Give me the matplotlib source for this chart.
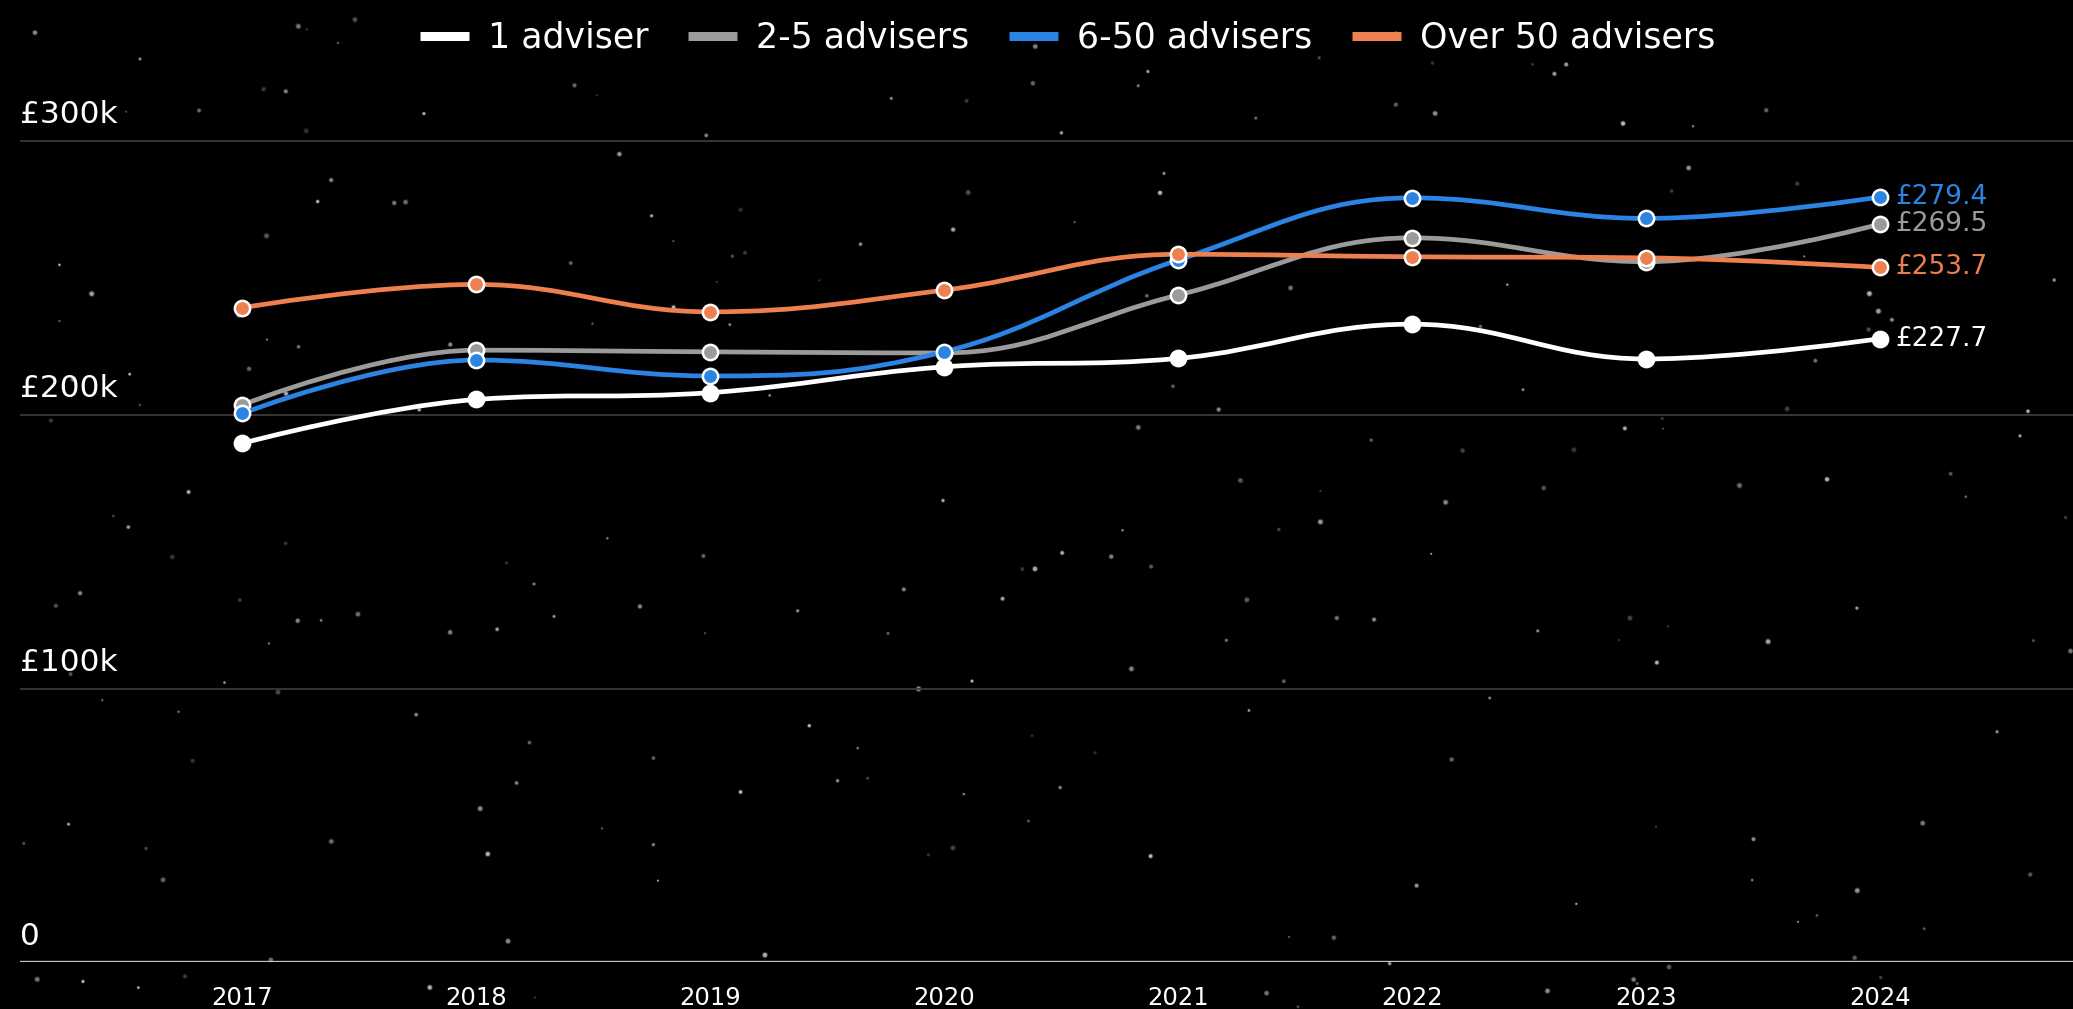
#!/usr/bin/env python3
"""
Average adviser income by firm size, 2017-2024
"""

import numpy as np
import matplotlib
matplotlib.use("Agg")
import matplotlib.pyplot as plt
from matplotlib.path import Path
from matplotlib.patches import PathPatch
from matplotlib.lines import Line2D
import matplotlib.transforms as mtransforms

# data (thousand £)
YEARS = ["2017", "2018", "2019", "2020", "2021", "2022", "2023", "2024"]
ONE_ADVISER = [189.5, 205.5, 208.0, 217.4, 220.5, 233.0, 220.3, 227.7]
TWO_FIVE = [203.5, 223.5, 222.9, 222.5, 243.6, 264.5, 255.8, 269.5]
SIX_FIFTY = [200.4, 219.9, 214.1, 222.9, 256.4, 279.1, 271.6, 279.4]
OVER_FIFTY = [239.0, 247.5, 237.5, 245.4, 258.5, 257.6, 257.2, 253.7]
SERIES_NAMES = ["1 adviser", "2-5 advisers", "6-50 advisers", "Over 50 advisers"]
Y_TICKS = [0, 100, 200, 300]
Y_TICK_LABELS = ["0", "£100k", "£200k", "£300k"]

COLORS = ["#ffffff", "#9b9b9b", "#2b84e4", "#ee8050"]
FONT = ["DejaVu Sans"]
plt.rcParams["font.family"] = FONT


def spline_path(xs, ys, smoothing=1.5):
    """Cubic bezier path through the points (highcharts style spline)."""
    n = len(xs)
    left = [None] * n
    right = [None] * n
    denom = smoothing + 1
    for i in range(1, n - 1):
        lx, ly = xs[i - 1], ys[i - 1]
        px, py = xs[i], ys[i]
        nx, ny = xs[i + 1], ys[i + 1]
        lcx = (smoothing * px + lx) / denom
        lcy = (smoothing * py + ly) / denom
        rcx = (smoothing * px + nx) / denom
        rcy = (smoothing * py + ny) / denom
        if rcx != lcx:
            corr = (rcy - lcy) * (rcx - px) / (rcx - lcx) + py - rcy
            lcy += corr
            rcy += corr
        if lcy > ly and lcy > py:
            lcy = max(ly, py)
            rcy = 2 * py - lcy
        elif lcy < ly and lcy < py:
            lcy = min(ly, py)
            rcy = 2 * py - lcy
        if rcy > ny and rcy > py:
            rcy = max(ny, py)
            lcy = 2 * py - rcy
        elif rcy < ny and rcy < py:
            rcy = min(ny, py)
            lcy = 2 * py - rcy
        left[i] = (lcx, lcy)
        right[i] = (rcx, rcy)
    verts = [(xs[0], ys[0])]
    codes = [Path.MOVETO]
    for i in range(1, n):
        c1 = right[i - 1] or (xs[i - 1], ys[i - 1])
        c2 = left[i] or (xs[i], ys[i])
        verts += [c1, c2, (xs[i], ys[i])]
        codes += [Path.CURVE4] * 3
    return Path(verts, codes)


fig = plt.figure(figsize=(20.73, 10.09), dpi=100, facecolor="black")

# starry background (decoration only)
bg = fig.add_axes([0, 0, 1, 1], zorder=-1)
bg.set_facecolor("black")
bg.set_xlim(0, 1)
bg.set_ylim(0, 1)
bg.axis("off")
rng = np.random.default_rng(11)
n_stars = 230
sx = rng.uniform(0, 1, n_stars)
sy = rng.uniform(0, 1, n_stars)
ss = rng.uniform(1.5, 10, n_stars)
sa = rng.uniform(0.15, 0.75, n_stars)
bg.scatter(sx, sy, s=ss * 2.2, linewidths=0,
           facecolors=[(0.85, 0.85, 0.85, a * 0.35) for a in sa])
bg.scatter(sx, sy, s=ss, linewidths=0,
           facecolors=[(0.9, 0.9, 0.9, a) for a in sa])

ax = fig.add_axes([0.0096, 0.0461, 0.9904, 0.896])
ax.set_facecolor("none")
ax.set_xlim(-0.949, 7.825)
ax.set_ylim(0, 330)

for s in ax.spines.values():
    s.set_visible(False)

for v in Y_TICKS[1:]:
    ax.axhline(v, color="#3a3a3a", lw=1.3, zorder=1)
ax.axhline(0, color="#c4c4c4", lw=2.4, zorder=2)

x = np.arange(len(YEARS))
ax.set_xticks(x)
ax.set_xticklabels(YEARS, color="white", fontsize=17.5)
ax.tick_params(axis="x", length=0, pad=17)
ax.set_yticks([])

trans = mtransforms.blended_transform_factory(ax.transAxes, ax.transData)
for v, lab in zip(Y_TICKS, Y_TICK_LABELS):
    ax.annotate(lab, (0, v), xycoords=trans, xytext=(0, 8.5),
                textcoords="offset points", color="white", fontsize=22.5,
                ha="left", va="bottom")

all_series = [ONE_ADVISER, TWO_FIVE, SIX_FIFTY, OVER_FIFTY]
for k, (vals, col) in enumerate(zip(all_series, COLORS)):
    path = spline_path(list(x.astype(float)), vals)
    patch = PathPatch(path, facecolor="none", edgecolor=col, lw=3.4,
                      transform=ax.transData, zorder=3 + k * 2,
                      capstyle="round", joinstyle="round")
    ax.add_patch(patch)
    ax.plot(x, vals, "o", ms=11, mfc=col, mec="white", mew=1.8,
            zorder=4 + k * 2, clip_on=False)
    ax.annotate(f"£{vals[-1]:.1f}", (x[-1], vals[-1]), xytext=(11, 0),
                textcoords="offset points", color=col, fontsize=19,
                ha="left", va="center", zorder=12)

handles = [Line2D([0], [0], color=c, lw=6.5, solid_capstyle="butt")
           for c in COLORS]
leg = fig.legend(handles, SERIES_NAMES, loc="upper center",
                 bbox_to_anchor=(0.515, 1.0), ncol=4, frameon=False,
                 fontsize=25, handlelength=1.4, handletextpad=0.55,
                 columnspacing=1.15, borderaxespad=0.2)
for t in leg.get_texts():
    t.set_color("white")

fig.savefig("out.png", dpi=100, facecolor="black")
